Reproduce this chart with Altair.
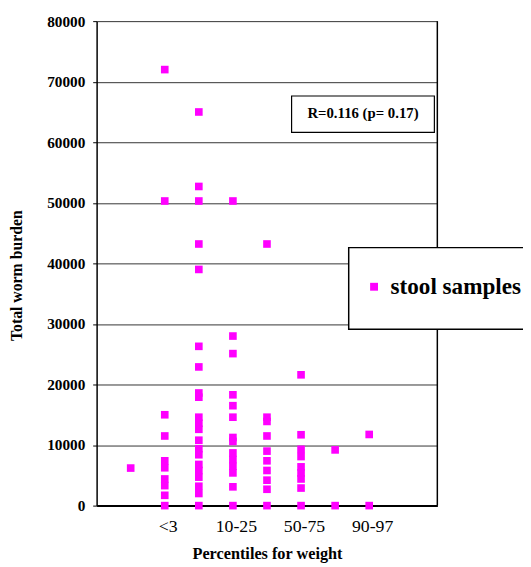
import altair as alt
import pandas as pd

# ---- data ----
# x position of each percentile column (1..8), total worm burden values
col1 = [6200]
col2 = [0, 1700, 3300, 4400, 6250, 7400, 11500, 15000, 50300, 72000]
col3 = [0, 2000, 3200, 4700, 5800, 6800, 8400, 9400, 10800, 12600, 13600,
        14600, 17900, 18600, 22900, 26300, 39000, 43200, 50300, 52700, 65000]
col4 = [0, 3100, 5400, 6500, 7600, 8700, 10600, 11250, 14600, 16500, 18300,
        25100, 28000, 50300]
col5 = [0, 2700, 4200, 5800, 7400, 9000, 11500, 13900, 14600, 43200]
col6 = [0, 2900, 4400, 5400, 6400, 8100, 9300, 11700, 21600]
col7 = [0, 9200]
col8 = [0, 11750]
columns = [col1, col2, col3, col4, col5, col6, col7, col8]

x_tick_values = [2, 4, 6, 8]
x_tick_labels = ["<3", "10-25", "50-75", "90-97"]
y_ticks = [0, 10000, 20000, 30000, 40000, 50000, 60000, 70000, 80000]
series_name = "stool samples"
annotation = "R=0.116 (p= 0.17)"

rows = []
for i, col in enumerate(columns, start=1):
    for v in col:
        rows.append({"pos": i, "burden": v, "series": series_name})
df = pd.DataFrame(rows)

FONT = "Liberation Serif"
MAGENTA = "#FF00FF"

label_expr = " : ".join(
    f"datum.value == {v} ? '{t}'" for v, t in zip(x_tick_values, x_tick_labels)
) + " : ''"

W, H = 346, 492

points = alt.Chart(df).mark_square(size=60, opacity=1).encode(
    x=alt.X("pos:Q", scale=alt.Scale(domain=[0, 10], nice=False),
            axis=alt.Axis(values=x_tick_values, labelExpr=label_expr, grid=False,
                          ticks=False, labelFontSize=18, labelFont=FONT,
                          labelColor="black", labelPadding=12, labelOffset=3,
                          domainColor="black", domainWidth=2,
                          title="Percentiles for weight", titleFont=FONT,
                          titleFontSize=16.5, titleFontWeight="bold",
                          titleColor="black", titleX=173, titleY=49,
                          titleBaseline="middle", titleAlign="center")),
    y=alt.Y("burden:Q", scale=alt.Scale(domain=[0, 80000], nice=False),
            axis=alt.Axis(values=y_ticks, format="d", grid=True,
                          gridColor="#333333", gridWidth=1,
                          tickSize=4, tickColor="black",
                          labelFontSize=15.5, labelFont=FONT, labelFontWeight="bold",
                          labelColor="black", labelPadding=8,
                          domainColor="black", domainWidth=1.5,
                          title="Total worm burden", titleFont=FONT,
                          titleFontSize=16, titleFontWeight="bold",
                          titleColor="black", titleAngle=270,
                          titleX=-81, titleY=258, titleBaseline="middle",
                          titleAlign="center")),
    color=alt.Color("series:N", scale=alt.Scale(range=[MAGENTA]),
                    legend=alt.Legend(orient="none", legendX=270, legendY=258,
                                      title=None, symbolType="square",
                                      symbolSize=64, symbolStrokeWidth=0,
                                      labelFont=FONT, labelFontSize=23.5,
                                      labelFontWeight="bold", labelColor="black",
                                      labelOffset=5, padding=0, labelLimit=300)),
)

one = pd.DataFrame({"k": [0]})

right_border = alt.Chart(one).mark_rule(color="black", strokeWidth=1.5).encode(
    x=alt.datum(10), y=alt.value(0), y2=alt.value(H)
)

note_box = alt.Chart(one).mark_rect(fill="white", stroke="black", strokeWidth=1.2).encode(
    x=alt.value(198), x2=alt.value(343), y=alt.value(76), y2=alt.value(113)
)
note_text = alt.Chart(one).mark_text(
    text=annotation, font=FONT, fontSize=15, fontWeight="bold", color="black",
    align="center", baseline="middle"
).encode(x=alt.value(270.5), y=alt.value(93))

legend_box = alt.Chart(one).mark_rect(fill="white", stroke="black", strokeWidth=1.5).encode(
    x=alt.value(256), x2=alt.value(450), y=alt.value(230), y2=alt.value(313)
)

chart = alt.layer(points, right_border, note_box, note_text, legend_box).properties(
    width=W, height=H,
    autosize=alt.AutoSizeParams(type="none"),
    padding={"left": 90, "top": 9, "right": 87, "bottom": 58},
    background="white",
).configure_view(stroke=None)

chart.save("out.html", embed_options={"renderer": "svg", "actions": False})
